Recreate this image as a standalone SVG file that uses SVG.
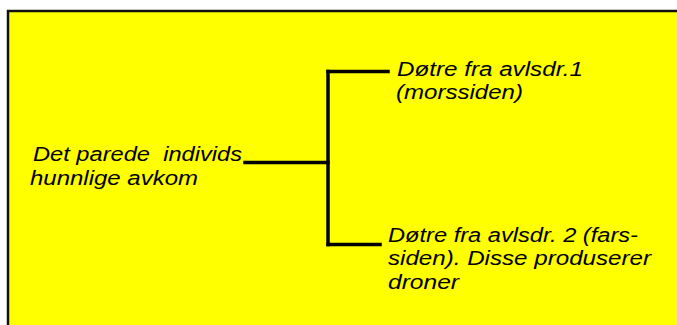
<svg xmlns="http://www.w3.org/2000/svg" width="677" height="325" viewBox="0 0 677 325">
  <style>
    .t { font-family: "Liberation Sans", Arial, sans-serif; font-style: italic; font-size: 20.5px; fill: #000; }
    .c { stroke: #000; stroke-width: 3.5; fill: none; stroke-linecap: square; }
  </style>
  <rect x="0" y="0" width="677" height="325" fill="#ffffff"/>
  <rect id="frame" x="8" y="11" width="700" height="340" fill="#ffff00" stroke="#111" stroke-width="2.5"/>
  <g id="connectors">
    <line class="c" x1="245" y1="162.5" x2="328" y2="162.5"/>
    <line class="c" x1="328" y1="71.5" x2="328" y2="244.5"/>
    <line class="c" x1="328" y1="71.5" x2="388" y2="71.5"/>
    <line class="c" x1="328" y1="244.5" x2="380" y2="244.5"/>
  </g>
  <g id="node-parent">
    <text class="t" x="33" y="161" textLength="209" lengthAdjust="spacingAndGlyphs" xml:space="preserve">Det parede  individs</text>
    <text class="t" x="30" y="184.5" textLength="168" lengthAdjust="spacingAndGlyphs">hunnlige avkom</text>
  </g>
  <g id="node-mother">
    <text class="t" x="397" y="75.5" textLength="186" lengthAdjust="spacingAndGlyphs">Døtre fra avlsdr.1</text>
    <text class="t" x="396" y="98.5" textLength="127" lengthAdjust="spacingAndGlyphs">(morssiden)</text>
  </g>
  <g id="node-father">
    <text class="t" x="388" y="241.5" textLength="250" lengthAdjust="spacingAndGlyphs">Døtre fra avlsdr. 2 (fars-</text>
    <text class="t" x="388" y="265" textLength="263" lengthAdjust="spacingAndGlyphs">siden). Disse produserer</text>
    <text class="t" x="388" y="288.5" textLength="71" lengthAdjust="spacingAndGlyphs">droner</text>
  </g>
</svg>
